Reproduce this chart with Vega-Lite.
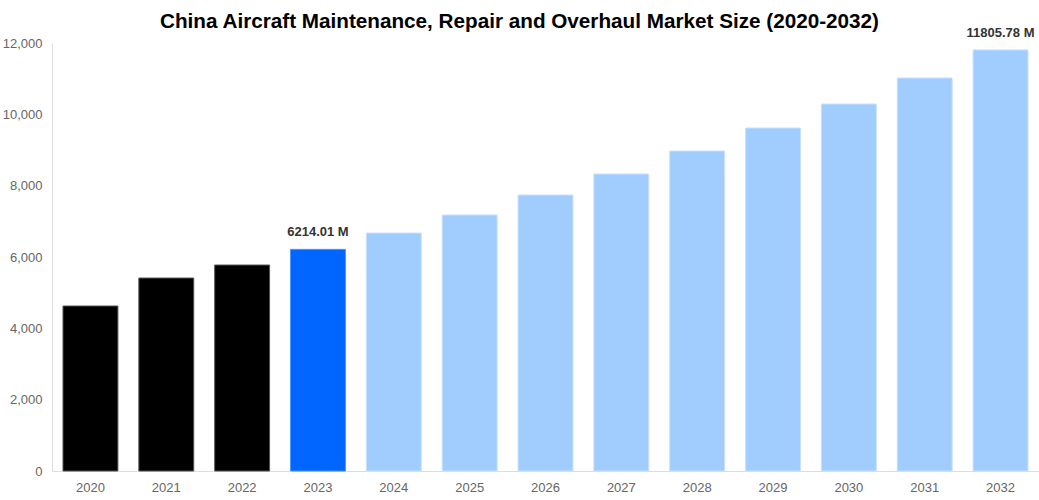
{
  "$schema": "https://vega.github.io/schema/vega-lite/v6.json",
  "autosize": "none",
  "width": 987,
  "height": 428,
  "padding": {"left": 52, "top": 43, "right": 0, "bottom": 29},
  "title": {
    "text": "China Aircraft Maintenance, Repair and Overhaul Market Size (2020-2032)",
    "fontSize": 20.7,
    "fontWeight": "bold",
    "font": "Liberation Sans",
    "color": "#000000",
    "anchor": "middle",
    "dx": -26,
    "offset": -6
  },
  "data": {
    "values": [
      {"year": "2020", "value": 4626, "group": "hist", "label": ""},
      {"year": "2021", "value": 5410, "group": "hist", "label": ""},
      {"year": "2022", "value": 5775, "group": "hist", "label": ""},
      {"year": "2023", "value": 6214.01, "group": "base", "label": "6214.01 M"},
      {"year": "2024", "value": 6672, "group": "fc", "label": ""},
      {"year": "2025", "value": 7177, "group": "fc", "label": ""},
      {"year": "2026", "value": 7738, "group": "fc", "label": ""},
      {"year": "2027", "value": 8326, "group": "fc", "label": ""},
      {"year": "2028", "value": 8971, "group": "fc", "label": ""},
      {"year": "2029", "value": 9616, "group": "fc", "label": ""},
      {"year": "2030", "value": 10289, "group": "fc", "label": ""},
      {"year": "2031", "value": 11018, "group": "fc", "label": ""},
      {"year": "2032", "value": 11805.78, "group": "fc", "label": "11805.78 M"}
    ]
  },
  "encoding": {
    "x": {
      "field": "year",
      "type": "ordinal",
      "title": null,
      "scale": {"paddingInner": 0.276, "paddingOuter": 0.145},
      "axis": {
        "labelAngle": 0,
        "labelColor": "#666666",
        "labelFontSize": 13,
        "labelFont": "Liberation Sans",
        "labelPadding": 10,
        "ticks": false,
        "domainColor": "#dddddd"
      }
    },
    "y": {
      "field": "value",
      "type": "quantitative",
      "title": null,
      "scale": {"domain": [0, 12000], "nice": false},
      "axis": {
        "values": [0, 2000, 4000, 6000, 8000, 10000, 12000],
        "format": ",.0f",
        "grid": false,
        "ticks": false,
        "labelColor": "#666666",
        "labelFontSize": 13,
        "labelFont": "Liberation Sans",
        "labelPadding": 10,
        "domainColor": "#dddddd"
      }
    }
  },
  "layer": [
    {
      "mark": {"type": "bar", "strokeWidth": 1},
      "encoding": {
        "color": {
          "field": "group",
          "type": "nominal",
          "legend": null,
          "scale": {
            "domain": ["hist", "base", "fc"],
            "range": ["#000000", "#0066ff", "#a0cdfd"]
          }
        },
        "stroke": {
          "field": "group",
          "type": "nominal",
          "legend": null,
          "scale": {
            "domain": ["hist", "base", "fc"],
            "range": ["#555555", "#4d94ff", "#c6e1fe"]
          }
        }
      }
    },
    {
      "mark": {
        "type": "text",
        "dy": -17,
        "fontSize": 13,
        "fontWeight": "bold",
        "font": "Liberation Sans",
        "color": "#333333"
      },
      "encoding": {"text": {"field": "label"}}
    }
  ],
  "config": {"view": {"stroke": null}}
}
